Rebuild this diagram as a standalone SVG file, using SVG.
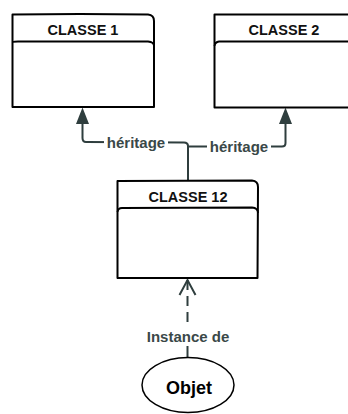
<svg xmlns="http://www.w3.org/2000/svg" width="348" height="414" viewBox="0 0 348 414">
<style>
.box{fill:#fff;stroke:#000;stroke-width:2;stroke-linejoin:round}
.line{fill:none;stroke:#000;stroke-width:1.8}
.title{font-family:"Liberation Sans",Arial,sans-serif;font-weight:bold;font-size:14.5px;fill:#111;text-anchor:middle}
.conn{fill:none;stroke:#2f3e3e;stroke-width:2}
.lbl{font-family:"Liberation Sans",Arial,sans-serif;font-weight:bold;font-size:15px;fill:#3a4848;text-anchor:middle}
.bg{fill:#fff}
</style>
<rect width="348" height="414" fill="#fff"/>
<g id="connectors">
<path class="conn" d="M82.5 123 L82.5 138 Q82.5 142 86 142 L184 142.5 Q188 142.5 188 146 L188 181"/>
<path class="conn" d="M188 146.5 L282 146.5 Q285.5 146.5 285.5 143 L285.5 123"/>
<path d="M76 124 L82.5 107.5 L89 124 Z" fill="#2f3e3e"/>
<path d="M279 124 L285.5 107.5 L292 124 Z" fill="#2f3e3e"/>
<rect class="bg" x="104" y="134" width="64" height="18"/>
<text class="lbl" x="136" y="148">héritage</text>
<rect class="bg" x="207" y="138" width="64" height="18"/>
<text class="lbl" x="239" y="152">héritage</text>
<path class="conn" d="M187.5 280 L187.5 328" stroke-dasharray="10 6"/>
<path class="conn" d="M179.5 295 L187.5 280 L195.5 295"/>
<path class="conn" d="M187.5 346 L187.5 358"/>
<text class="lbl" x="188" y="342">Instance de</text>
</g>
<g id="classe1">
<path class="box" d="M12.5 14.5 Q80 13.5 148 14.5 Q154 15 154 21 L154 107 L12.5 107 Z"/>
<path class="line" d="M12.5 42 Q14 41.5 18 41.5 L148 41.5 Q154 42 154 46"/>
<text class="title" x="83" y="35">CLASSE 1</text>
</g>
<g id="classe2">
<path class="box" d="M214.5 14.5 L352 14.5 L352 107.5 L214.5 107.5 Z"/>
<path class="line" d="M214.5 46 Q215 42 219 41.5 L352 41.5"/>
<text class="title" x="284" y="35">CLASSE 2</text>
</g>
<g id="classe12">
<path class="box" d="M117.5 181 L252 180.5 Q258 181 258 187 L257.5 278 L117.5 278 Z"/>
<path class="line" d="M117.5 212 Q118 208 122 208 L252 207.5 Q258 208 258 213"/>
<text class="title" x="188" y="202">CLASSE 12</text>
</g>
<g id="objet">
<ellipse cx="188" cy="385" rx="46" ry="27.5" fill="#fff" stroke="#000" stroke-width="1.5"/>
<text x="189" y="394" font-family="Liberation Sans,Arial,sans-serif" font-weight="bold" font-size="18" text-anchor="middle" fill="#000">Objet</text>
</g>
</svg>
